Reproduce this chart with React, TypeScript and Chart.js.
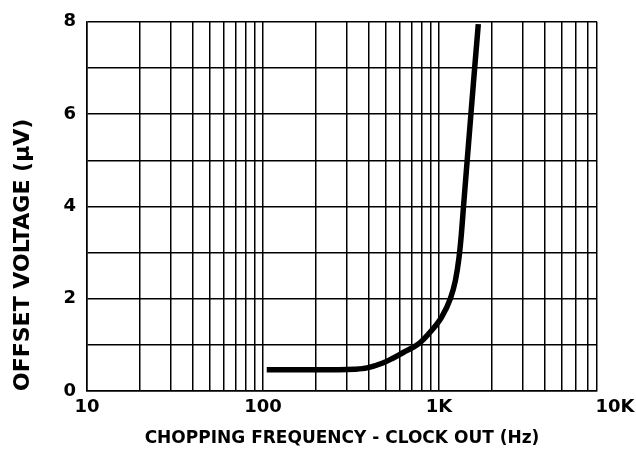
import React, { useEffect, useRef } from "react";
import { Chart, registerables } from "chart.js";

Chart.register(...registerables);

// Curve (frequency in Hz, offset voltage in µV)
const frequencyHz = [105, 270, 330, 390, 475, 540, 630, 765, 902, 1035, 1160, 1240, 1300, 1340, 1378, 1446, 1518, 1594, 1672];
const offsetVoltageUV = [0.46, 0.46, 0.47, 0.5, 0.6, 0.7, 0.84, 1.02, 1.3, 1.6, 2.0, 2.4, 2.9, 3.4, 4.0, 5.0, 6.0, 7.0, 7.95];

// X axis (logarithmic); the drawn grid stops short of 10K as in the reference
const xMin = 10;
const xMax = 7900;
const xGridValues = [
  10, 20, 30, 40, 50, 60, 70, 80, 90,
  100, 200, 300, 400, 500, 600, 700, 800, 900,
  1000, 2000, 3000, 4000, 5000, 6000, 7000,
];
const xLabelValues = [10, 100, 1000, 10000];
const xLabelTexts = ["10", "100", "1K", "10K"];

// Y axis
const yMin = 0;
const yMax = 8;
const yLabelValues = [0, 2, 4, 6, 8];

const xTitle = "CHOPPING FREQUENCY - CLOCK OUT (Hz)";
const yTitle = "OFFSET VOLTAGE (\u00b5V)";

const FONT = "DejaVu Sans";

export default function App() {
  const ref = useRef<HTMLCanvasElement>(null);

  useEffect(() => {
    const canvas = ref.current;
    if (!canvas) return;
    const chart = new Chart(canvas, {
      type: "line",
      data: {
        datasets: [
          {
            data: frequencyHz.map((f, i) => ({ x: f, y: offsetVoltageUV[i] })),
            borderColor: "#000",
            borderWidth: 5.5,
            pointRadius: 0,
            cubicInterpolationMode: "monotone",
            borderCapStyle: "butt",
            borderJoinStyle: "round",
            fill: false,
          },
        ],
      },
      options: {
        responsive: false,
        animation: false,
        devicePixelRatio: 1,
        events: [],
        layout: { padding: { top: 19, right: 39, bottom: 0, left: 0 } },
        plugins: {
          legend: { display: false },
          tooltip: { enabled: false },
        },
        scales: {
          x: {
            type: "logarithmic",
            min: xMin,
            max: xMax,
            afterBuildTicks: (scale: any) => {
              const vals = [...xGridValues, xMax, ...xLabelValues.filter((v) => v > xMax)];
              scale.ticks = vals.map((v) => ({ value: v }));
            },
            afterFit: (scale: any) => {
              scale.height = 62;
              scale.paddingLeft = 0;
              scale.paddingRight = 0;
            },
            ticks: {
              autoSkip: false,
              maxRotation: 0,
              padding: 6,
              color: "#000",
              font: { family: FONT, size: 18, weight: "bold" },
              callback: (value: any) => {
                const i = xLabelValues.indexOf(Number(value));
                return i >= 0 ? xLabelTexts[i] : "";
              },
            },
            grid: {
              color: (c: any) => (c.tick && c.tick.value > xMax ? "rgba(0,0,0,0)" : "#000"),
              lineWidth: (c: any) => (c.tick && c.tick.value > xMax ? 0 : 1.5),
              drawTicks: false,
            },
            border: { color: "#000", width: 1.5 },
            title: {
              display: true,
              text: xTitle,
              color: "#000",
              font: { family: FONT, size: 17, weight: "bold" },
              padding: { top: 0, bottom: 4 },
            },
          },
          y: {
            type: "linear",
            min: yMin,
            max: yMax,
            afterFit: (scale: any) => {
              scale.width = 87;
            },
            ticks: {
              stepSize: 1,
              autoSkip: false,
              padding: 11,
              color: "#000",
              font: { family: FONT, size: 18, weight: "bold" },
              callback: (value: any) =>
                yLabelValues.includes(Number(value)) ? String(value) : "",
            },
            grid: { color: "#000", lineWidth: 1.5, drawTicks: false },
            border: { color: "#000", width: 1.5 },
            title: {
              display: true,
              text: yTitle,
              align: "start",
              color: "#000",
              font: { family: FONT, size: 22, weight: "bold" },
              padding: { top: 10, bottom: 0 },
            },
          },
        },
      } as any,
    });
    return () => chart.destroy();
  }, []);

  return (
    <div style={{ position: "absolute", left: 0, top: 0, width: 636, height: 453, background: "#fff" }}>
      <canvas ref={ref} width={636} height={453} style={{ display: "block" }} />
    </div>
  );
}
